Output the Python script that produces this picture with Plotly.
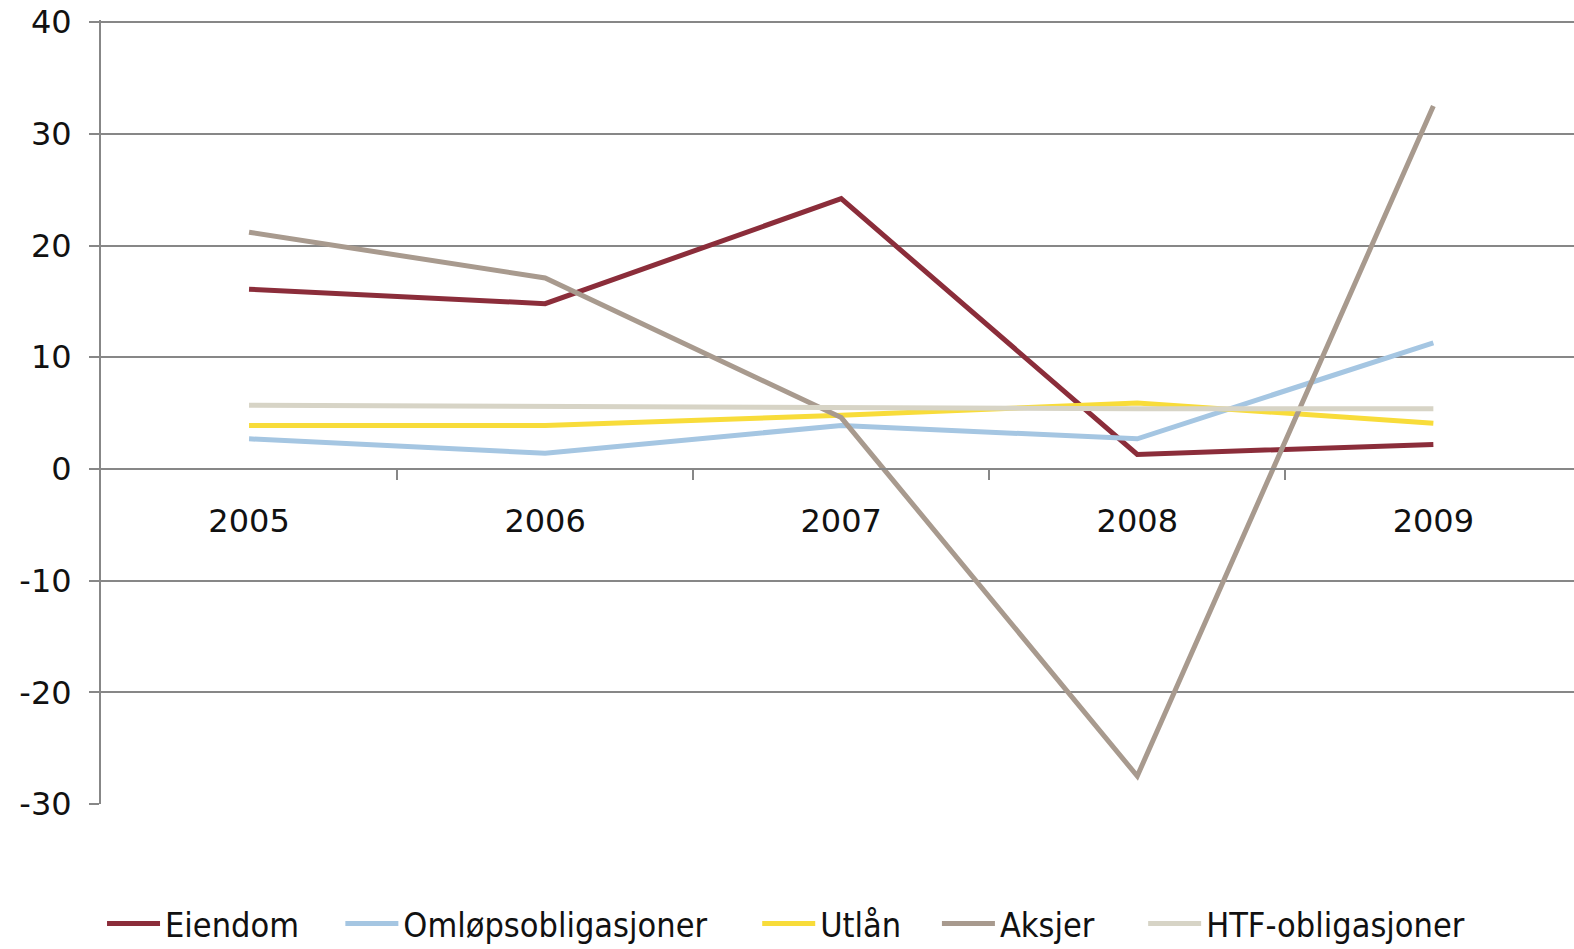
import plotly.graph_objects as go

years = ["2005", "2006", "2007", "2008", "2009"]
eiendom = [16.1, 14.8, 24.2, 1.3, 2.2]
omlop = [2.7, 1.4, 3.9, 2.7, 11.3]
utlan = [3.9, 3.9, 4.8, 5.9, 4.1]
aksjer = [21.2, 17.1, 4.6, -27.5, 32.5]
htf = [5.7, 5.6, 5.4, 5.4, 5.4]
yticks = [-30, -20, -10, 0, 10, 20, 30, 40]

names = ["Eiendom", "Omløpsobligasjoner", "Utlån", "Aksjer", "HTF-obligasjoner"]
series = [eiendom, omlop, utlan, aksjer, htf]
colors = ["#8B2D3A", "#A5C6E2", "#F8DC3A", "#A89A8E", "#D7D4C6"]
legend_x = [0.0007, 0.1625, 0.4455, 0.5675, 0.7075]

ymin, ymax = -30, 40
ytop = ymax + 0.2
xs = list(range(len(years)))

fig = go.Figure()
for i, (n, s, c) in enumerate(zip(names, series, colors)):
    lg = "legend" if i == 0 else f"legend{i+1}"
    fig.add_trace(go.Scatter(x=xs, y=s, name=n, mode="lines", legend=lg,
                             line=dict(color=c, width=5)))

grey = "#878787"
legfont = dict(family="Liberation Sans Narrow, DejaVu Sans Condensed, Arial Narrow, sans-serif",
               size=34, color="#111")
layout_legends = {}
for i, lx in enumerate(legend_x):
    key = "legend" if i == 0 else f"legend{i+1}"
    layout_legends[key] = dict(orientation="h", x=lx, xanchor="left", y=-0.153,
                               yanchor="middle", font=legfont, bgcolor="rgba(0,0,0,0)",
                               itemwidth=53)

fig.update_layout(
    width=1574, height=949,
    margin=dict(l=101, r=0, t=20, b=145, autoexpand=False),
    paper_bgcolor="white", plot_bgcolor="white",
    font=dict(family="DejaVu Sans, Verdana, sans-serif", size=32, color="#111"),
    showlegend=True,
    xaxis=dict(range=[-0.5, 4.475], tickvals=xs, ticktext=years, ticks="",
               showgrid=False, showline=True, linecolor=grey, linewidth=2,
               anchor="free", position=(0 - ymin) / (ytop - ymin),
               ticklabelstandoff=24, automargin=False,
               minor=dict(tickvals=[0.5, 1.5, 2.5, 3.5], ticks="outside", ticklen=10,
                          tickcolor=grey, tickwidth=1.5, showgrid=False),
               zeroline=False),
    yaxis=dict(range=[ymin, ytop], tickvals=yticks, ticktext=[str(v) for v in yticks],
               showgrid=True, gridcolor=grey, automargin=False,
               gridwidth=1.5, zeroline=True, zerolinecolor=grey, zerolinewidth=2,
               showline=True, linecolor=grey, linewidth=2, ticks="outside",
               ticklen=10, tickcolor=grey, tickwidth=1.5, ticklabelstandoff=11),
    **layout_legends,
)

fig.write_html("out.html", config={"displayModeBar": False},
               post_script="document.body.style.margin='0';document.body.style.overflow='hidden';")
